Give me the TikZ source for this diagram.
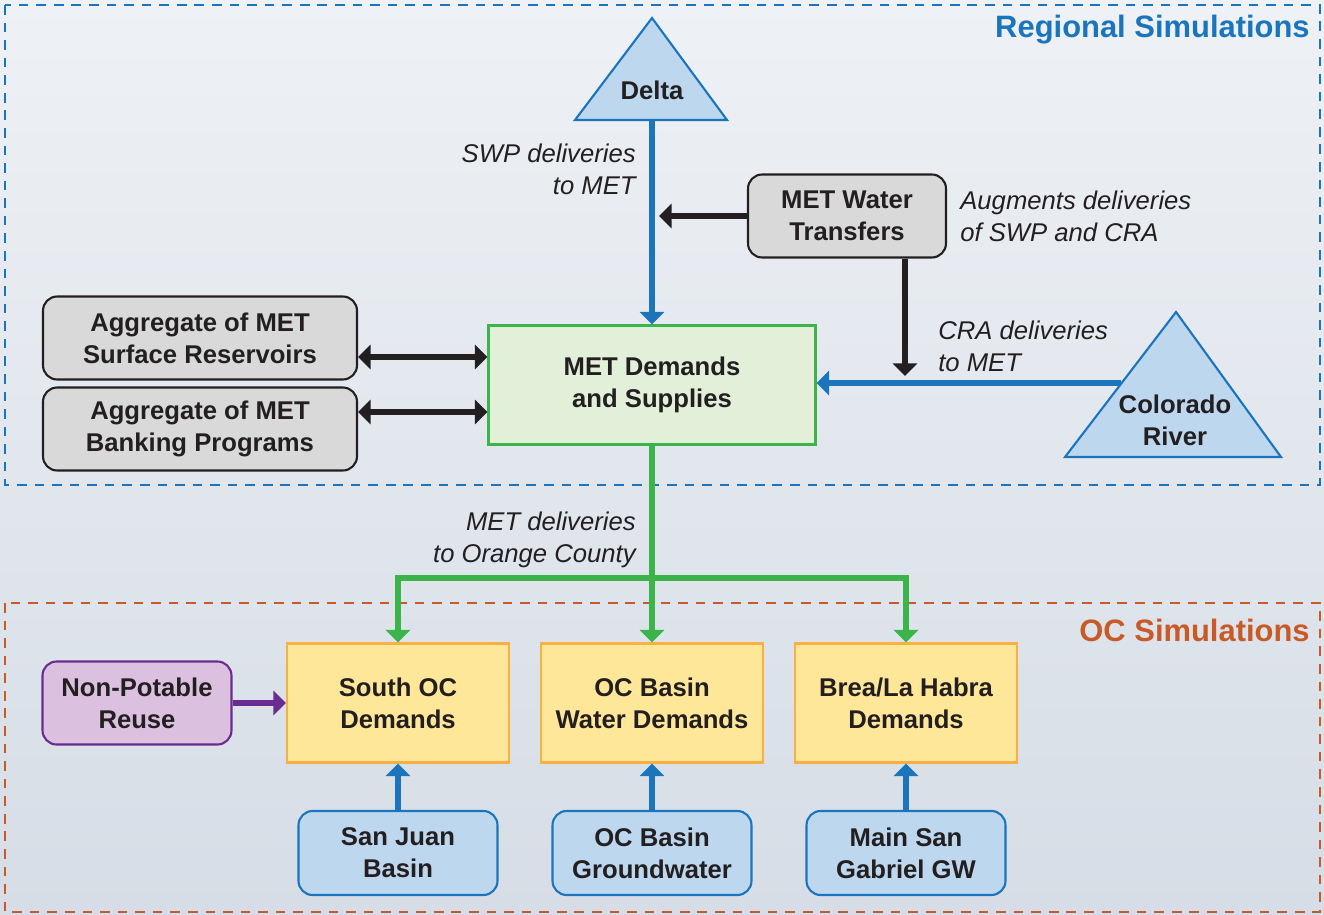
\documentclass[tikz,border=0pt]{standalone}
\usepackage{fontspec}
\setmainfont{Liberation Sans}
\usetikzlibrary{arrows.meta,positioning}
\definecolor{regblue}{HTML}{1B75BC}
\definecolor{ocorange}{HTML}{C85A27}
\definecolor{metgreen}{HTML}{3BB54A}
\definecolor{metfill}{HTML}{E2EFD9}
\definecolor{ocfill}{HTML}{FEE799}
\definecolor{ocline}{HTML}{F9B042}
\definecolor{gwfill}{HTML}{BDD7EE}
\definecolor{grayfill}{HTML}{D9D9D9}
\definecolor{darkline}{HTML}{231F20}
\definecolor{nprfill}{HTML}{DBC1DF}
\definecolor{nprline}{HTML}{6A2C91}
\definecolor{bgtop}{HTML}{EEF1F5}
\definecolor{bgbot}{HTML}{D6DDE6}
\tikzset{
  box/.style={draw, line width=1.2pt, align=center, text=darkline, inner sep=0pt,
    font=\bfseries\fontsize{14.6}{18.2}\selectfont},
  graybox/.style={box, rounded corners=8pt, fill=grayfill, draw=darkline,
    minimum height=1.66cm},
  metbox/.style={box, fill=metfill, draw=metgreen, minimum width=6.54cm, minimum height=2.38cm},
  ocbox/.style={box, fill=ocfill, draw=ocline, minimum width=4.44cm, minimum height=2.38cm},
  gwbox/.style={box, rounded corners=8pt, fill=gwfill, draw=regblue,
    minimum width=3.98cm, minimum height=1.68cm},
  nprbox/.style={box, rounded corners=8pt, fill=nprfill, draw=nprline,
    minimum width=3.78cm, minimum height=1.66cm},
  river/.style={fill=gwfill, draw=regblue, line width=1.2pt, line join=miter},
  flow/.style={line width=0.11cm, -{Triangle[length=0.25cm,width=0.48cm]}},
  twoway/.style={line width=0.11cm, {Triangle[length=0.25cm,width=0.48cm]}-{Triangle[length=0.25cm,width=0.48cm]}},
  note/.style={inner sep=0pt, font=\itshape\fontsize{14.6}{18.2}\selectfont, text=darkline},
  region/.style={dashed, line width=1.1pt, dash pattern=on 5.5pt off 4.5pt},
  title/.style={anchor=east, inner sep=0pt, font=\bfseries\fontsize{17.6}{22}\selectfont}
}
\begin{document}
\begin{tikzpicture}[x=0.02cm, y=-0.02cm]
\useasboundingbox (0,0) rectangle (1324,915);
\fill[top color=bgtop, bottom color=bgbot] (0,0) rectangle (1324,915);

% simulation regions
\draw[region, draw=regblue] (5,5) rectangle (1320,485);
\draw[region, draw=ocorange] (5,603) rectangle (1320,912);
\node[title, text=regblue] (regtitle) at (1310,30) {Regional Simulations};
\node[title, text=ocorange] (octitle) at (1310,630) {OC Simulations};

% sources
\draw[river] (575,120) -- (652,18) -- (727,120) -- cycle;
\node[box, draw=none] (delta) at (652,90) {Delta};
\coordinate (deltabase) at (652,120);
\draw[river] (1065,457) -- (1176,312) -- (1281,457) -- cycle;
\node[box, draw=none] (colorado) at (1175,420) {Colorado\\River};
\coordinate (craleft) at (1121,383);

% MET
\node[metbox] (met) at (652,385) {MET Demands\\and Supplies};
\node[graybox, minimum width=3.96cm] (transfers) at (847,216) {MET Water\\Transfers};
\node[graybox, minimum width=6.28cm] (aggsurf) at (200,338) {Aggregate of MET\\Surface Reservoirs};
\node[graybox, minimum width=6.28cm] (aggbank) at (200,429) {Aggregate of MET\\Banking Programs};

% OC
\node[ocbox] (southoc) at (398,703) {South OC\\Demands};
\node[ocbox] (ocbasin) at (652,703) {OC Basin\\Water Demands};
\node[ocbox] (brea) at (906,703) {Brea/La Habra\\Demands};
\node[nprbox] (npr) at (137,703) {Non-Potable\\Reuse};
\node[gwbox] (sanjuan) at (398,853) {San Juan\\Basin};
\node[gwbox] (ocgw) at (652,853) {OC Basin\\Groundwater};
\node[gwbox] (mainsan) at (906,853) {Main San\\Gabriel GW};

% notes
\node[note, anchor=east, align=right] (swpnote) at (636,169) {SWP deliveries\\to MET};
\node[note, anchor=west, align=left] (augnote) at (960,216) {Augments deliveries\\of SWP and CRA};
\node[note, anchor=west, align=left] (cranote) at (938,346) {CRA deliveries\\to MET};
\node[note, anchor=east, align=right] (octnote) at (636,540) {MET deliveries\\to Orange County};

% connectors
\draw[flow, draw=regblue] (deltabase) -- (met.north);
\coordinate (swpjoin) at (652,216);
\draw[flow, draw=darkline, shorten >=4pt] (transfers.west) -- (swpjoin);
\coordinate (crajoin) at (905,383);
\draw[flow, draw=regblue] (craleft) -- (craleft -| met.east);
\draw[flow, draw=darkline, shorten >=4pt] (transfers.south -| crajoin) -- (crajoin);
\draw[twoway, draw=darkline] ([yshift=-0.38cm]aggsurf.east) coordinate (s1) -- (s1 -| met.west);
\draw[twoway, draw=darkline] ([yshift=0.34cm]aggbank.east) coordinate (b1) -- (b1 -| met.west);

\coordinate (ocbus) at (652,578);
\draw[line width=0.11cm, draw=metgreen] (met.south) -- (ocbus);
\draw[flow, draw=metgreen] (ocbus) -| (southoc.north);
\draw[flow, draw=metgreen] (ocbus) -| (brea.north);
\draw[flow, draw=metgreen] (ocbus) -- (ocbasin.north);

\draw[flow, draw=nprline] (npr.east) -- (southoc.west);
\draw[flow, draw=regblue] (sanjuan.north) -- (southoc.south);
\draw[flow, draw=regblue] (ocgw.north) -- (ocbasin.south);
\draw[flow, draw=regblue] (mainsan.north) -- (brea.south);
\end{tikzpicture}
\end{document}
